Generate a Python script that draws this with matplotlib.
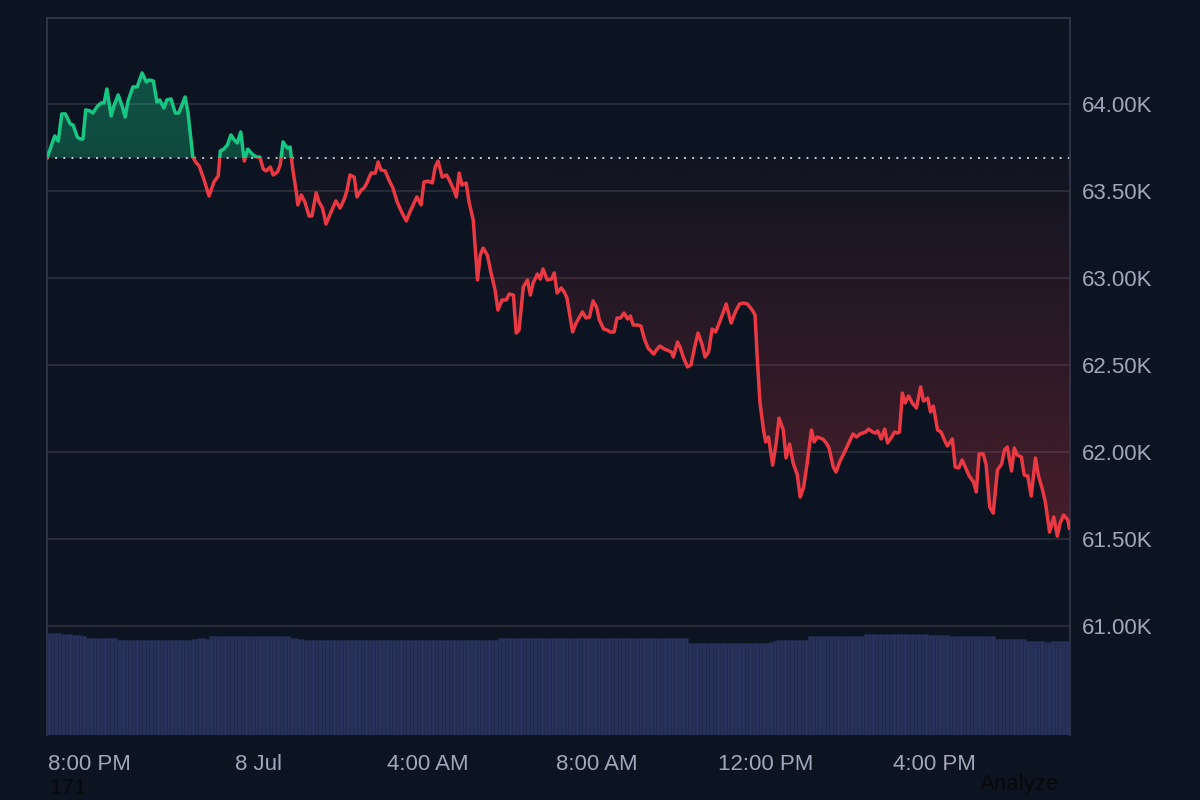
import numpy as np
import matplotlib
matplotlib.use('Agg')
import matplotlib.pyplot as plt
from matplotlib.colors import to_rgb
from matplotlib.patches import Rectangle

plt.rcParams['font.family'] = ['Liberation Sans', 'DejaVu Sans']

# price, minutes since 7:00 PM (7 Jul)
minutes = [
    0, 11, 16, 21, 26, 33, 37, 43, 47, 51,
    55, 61, 65, 72, 77, 81, 85, 91, 95, 101,
    107, 111, 115, 122, 128, 135, 141, 145, 151, 156,
    160, 166, 170, 176, 182, 187, 196, 200, 207, 212,
    216, 223, 230, 237, 243, 246, 251, 256, 261, 266,
    270, 275, 280, 285, 291, 297, 302, 307, 311, 317,
    321, 327, 331, 335, 341, 345, 349, 354, 356, 361,
    366, 372, 376, 382, 386, 391, 396, 402, 410, 416,
    422, 426, 430, 436, 440, 446, 450, 454, 460, 466,
    470, 474, 480, 486, 491, 497, 504, 510, 515, 521,
    525, 531, 535, 541, 547, 551, 555, 561, 567, 571,
    577, 581, 585, 589, 595, 599, 605, 611, 615, 619,
    625, 630, 636, 640, 646, 652, 656, 662, 666, 670,
    676, 682, 686, 690, 696, 700, 704, 710, 716, 720,
    724, 730, 734, 738, 746, 751, 760, 765, 770, 775,
    780, 784, 790, 795, 799, 805, 809, 814, 819, 824,
    828, 832, 838, 843, 848, 853, 861, 866, 870, 876,
    880, 886, 889, 895, 899, 903, 909, 914, 919, 924,
    930, 934, 939, 944, 949, 953, 959, 964, 971, 977,
    983, 988, 994, 1001, 1005, 1008, 1012, 1017, 1020, 1024,
    1030, 1035, 1039, 1045, 1049, 1054, 1059, 1065, 1069, 1074,
    1079, 1085, 1089, 1093, 1101, 1106, 1110, 1116, 1120, 1125,
    1130, 1136, 1144, 1149, 1154, 1162, 1166, 1172, 1176, 1179,
    1184, 1189, 1193, 1198, 1203, 1207, 1210, 1214, 1218, 1223,
    1228, 1234, 1240, 1244, 1250, 1254, 1258, 1264, 1269, 1275,
    1278, 1285, 1289, 1294, 1299, 1304, 1309, 1315, 1319, 1323,
    1329, 1333, 1338, 1343, 1349, 1355, 1359, 1363, 1369, 1373,
    1377, 1383, 1387, 1392, 1397, 1403, 1407, 1413, 1417, 1423,
    1429, 1434, 1438, 1443, 1449, 1451,
]
prices = [
    63690, 63816, 63787, 63943, 63943, 63885, 63879, 63810, 63799, 63799,
    63966, 63960, 63948, 63989, 64006, 64006, 64086, 63931, 63989, 64052,
    63983, 63925, 64017, 64098, 64098, 64178, 64126, 64138, 64132, 64011,
    64023, 63977, 64023, 64029, 63948, 63948, 64040, 63954, 63695, 63661,
    63644, 63563, 63471, 63552, 63586, 63730, 63741, 63764, 63822, 63793,
    63776, 63839, 63672, 63741, 63713, 63695, 63695, 63626, 63615, 63638,
    63592, 63609, 63649, 63782, 63747, 63753, 63621, 63489, 63420, 63477,
    63437, 63356, 63356, 63489, 63437, 63402, 63310, 63368, 63443, 63402,
    63454, 63506, 63592, 63580, 63466, 63506, 63517, 63546, 63603, 63603,
    63667, 63621, 63615, 63557, 63517, 63437, 63374, 63328, 63379, 63431,
    63466, 63420, 63552, 63557, 63546, 63638, 63672, 63580, 63592, 63563,
    63511, 63466, 63603, 63534, 63546, 63437, 63333, 62989, 63132, 63172,
    63132, 63034, 62931, 62816, 62874, 62874, 62908, 62902, 62684, 62701,
    62948, 62989, 62902, 62971, 63023, 62994, 63052, 62989, 62994, 63029,
    62914, 62943, 62920, 62885, 62690, 62741, 62805, 62770, 62776, 62868,
    62833, 62759, 62707, 62701, 62690, 62690, 62770, 62770, 62799, 62764,
    62782, 62730, 62730, 62724, 62649, 62598, 62563, 62592, 62609, 62592,
    62586, 62575, 62546, 62632, 62598, 62546, 62489, 62500, 62598, 62684,
    62615, 62546, 62575, 62707, 62690, 62730, 62793, 62851, 62741, 62805,
    62851, 62856, 62851, 62816, 62787, 62546, 62282, 62127, 62058, 62086,
    61925, 62052, 62195, 62127, 61966, 62046, 61937, 61868, 61741, 61799,
    61937, 62127, 62058, 62086, 62075, 62052, 62023, 61914, 61885, 61943,
    61983, 62035, 62104, 62086, 62104, 62115, 62132, 62115, 62109, 62121,
    62075, 62132, 62052, 62081, 62115, 62109, 62115, 62339, 62282, 62322,
    62282, 62253, 62374, 62293, 62310, 62230, 62264, 62127, 62115, 62058,
    62035, 62075, 61914, 61908, 61954, 61908, 61862, 61828, 61770, 61989,
    61989, 61925, 61684, 61649, 61897, 61931, 62012, 62029, 61891, 62023,
    61983, 61971, 61868, 61862, 61747, 61966, 61868, 61782, 61713, 61540,
    61627, 61517, 61592, 61638, 61609, 61563,
]
open_price = 63690

# 5 minute volume bars (relative units)
volume = [
    14.2, 14.2, 14.2, 14.2, 14.1, 14.1, 14.1,
    13.9, 13.9, 13.9, 13.8,
    13.5, 13.5, 13.5, 13.5, 13.5, 13.5, 13.5, 13.5, 13.5,
    13.2, 13.2, 13.2, 13.2, 13.2, 13.2, 13.2, 13.2, 13.2, 13.2, 13.2,
    13.2, 13.2, 13.2, 13.2, 13.2, 13.2, 13.2, 13.2, 13.2, 13.2,
    13.4, 13.4, 13.5, 13.5, 13.4,
    13.8, 13.8, 13.8, 13.8, 13.8, 13.8, 13.8, 13.8, 13.8, 13.8, 13.8, 13.8,
    13.8, 13.8, 13.8, 13.8, 13.8, 13.8, 13.8, 13.8, 13.8, 13.8, 13.8,
    13.5, 13.5, 13.4, 13.4,
    13.2, 13.2, 13.2, 13.2, 13.2, 13.2, 13.2, 13.2, 13.2, 13.2, 13.2,
    13.2, 13.2, 13.2, 13.2, 13.2, 13.2, 13.2, 13.2, 13.2, 13.2, 13.2,
    13.2, 13.2, 13.2, 13.2, 13.2, 13.2, 13.2, 13.2, 13.2, 13.2, 13.2,
    13.2, 13.2, 13.2, 13.2, 13.2, 13.2, 13.2, 13.2, 13.2, 13.2, 13.2,
    13.2, 13.2, 13.2, 13.2, 13.2, 13.2, 13.2, 13.2, 13.2, 13.2, 13.2,
    13.5, 13.5, 13.5, 13.5, 13.5, 13.5, 13.5, 13.5, 13.5, 13.5, 13.5,
    13.5, 13.5, 13.5, 13.5, 13.5, 13.5, 13.5, 13.5, 13.5, 13.5, 13.5,
    13.5, 13.5, 13.5, 13.5, 13.5, 13.5, 13.5, 13.5, 13.5, 13.5, 13.5,
    13.5, 13.5, 13.5, 13.5, 13.5, 13.5, 13.5, 13.5, 13.5, 13.5, 13.5,
    13.5, 13.5, 13.5, 13.5, 13.5, 13.5, 13.5, 13.5, 13.5, 13.5,
    12.8, 12.8, 12.8, 12.8, 12.8, 12.8, 12.8, 12.8, 12.8, 12.8, 12.8, 12.8,
    12.8, 12.8, 12.8, 12.8, 12.8, 12.8, 12.8, 12.8, 12.8, 12.8, 12.8,
    13.0, 13.1, 13.2, 13.2, 13.2, 13.2, 13.2, 13.2, 13.2, 13.2, 13.2,
    13.8, 13.8, 13.8, 13.8, 13.8, 13.8, 13.8, 13.8,
    13.8, 13.8, 13.8, 13.8, 13.8, 13.8, 13.8, 13.8,
    14.1, 14.1, 14.1, 14.1, 14.1, 14.1, 14.1, 14.1, 14.1,
    14.1, 14.1, 14.1, 14.1, 14.1, 14.1, 14.1, 14.1, 14.1,
    13.9, 13.9, 13.9, 14.0, 13.9, 13.9,
    13.8, 13.8, 13.8, 13.8, 13.8, 13.8, 13.8, 13.8, 13.8, 13.8, 13.8, 13.8, 13.8,
    13.4, 13.4, 13.4, 13.4, 13.4, 13.4, 13.4, 13.4, 13.4,
    13.1, 13.1, 13.1, 13.1, 13.1, 13.0, 13.0, 13.1, 13.1, 13.1, 13.1, 13.1, 13.1,
]
vol_step = 5

price_ticks = [61000, 61500, 62000, 62500, 63000, 63500, 64000]
price_labels = ['61.00K', '61.50K', '62.00K', '62.50K', '63.00K', '63.50K', '64.00K']
time_ticks = [60, 300, 540, 780, 1020, 1260]
time_labels = ['8:00 PM', '8 Jul', '4:00 AM', '8:00 AM', '12:00 PM', '4:00 PM']

bg = '#0d1421'
green = '#16c784'
red = '#ea3943'
grid_c = '#2a2e3b'
text_c = '#a1a7bb'
t_end = 1452
y_lo, y_hi = 60374, 64494

fig = plt.figure(figsize=(12, 8), dpi=100, facecolor=bg)
ax = fig.add_axes([47 / 1200, 65 / 800, 1023 / 1200, 717 / 800])
ax.set_facecolor(bg)

# volume on its own scale
ax2 = ax.twinx()
ax2.bar(np.arange(len(volume)) * vol_step, volume, width=vol_step, align='edge',
        color='#27315a', edgecolor='#222a4d', linewidth=0.4)
ax2.set_ylim(0, 100)
ax2.axis('off')


def vgrad(color, a_bottom, a_top):
    g = np.zeros((256, 1, 4))
    g[..., :3] = to_rgb(color)
    g[:, 0, 3] = np.linspace(a_bottom, a_top, 256)
    return g


poly = ax.fill_between(minutes, prices, open_price, facecolor='none', edgecolor='none')
clip = poly.get_paths()[0]

im_r = ax.imshow(vgrad(red, 0.28, 0.02), extent=[0, t_end, 61400, open_price],
                 origin='lower', aspect='auto', zorder=1)
im_r.set_clip_path(clip, ax.transData)
im_g = ax.imshow(vgrad(green, 0.30, 0.36), extent=[0, t_end, open_price, 64300],
                 origin='lower', aspect='auto', zorder=1)
im_g.set_clip_path(clip, ax.transData)

ax.axhline(open_price, color='#c3c7d2', lw=1.4, ls=(0, (1, 3.2)), zorder=2)

lg, = ax.plot(minutes, prices, color=green, lw=2.5, zorder=3, solid_joinstyle='round')
lg.set_clip_path(Rectangle((0, open_price), t_end, 5000, transform=ax.transData))
lr, = ax.plot(minutes, prices, color=red, lw=2.5, zorder=3, solid_joinstyle='round')
lr.set_clip_path(Rectangle((0, open_price - 5000), t_end, 5000, transform=ax.transData))

ax.set_xlim(0, t_end)
ax.set_ylim(y_lo, y_hi)

ax.yaxis.tick_right()
ax.set_yticks(price_ticks)
ax.set_yticklabels(price_labels)
ax.set_xticks(time_ticks)
ax.set_xticklabels(time_labels)
ax.tick_params(axis='y', length=0, pad=8.5, labelsize=16, labelcolor=text_c)
ax.tick_params(axis='x', length=0, pad=13.5, labelsize=16, labelcolor=text_c)
ax.grid(axis='y', color=grid_c, lw=1.3)
ax.set_axisbelow(True)

for s in ['left', 'right', 'top']:
    ax.spines[s].set_color('#33374a')
    ax.spines[s].set_linewidth(1.3)
ax.spines['bottom'].set_visible(False)

fig.text(49 / 1200, 1 / 800, '171', fontsize=16, color='#07080b', va='bottom')
fig.text(980 / 1200, 1 - 774 / 800, 'Analyze', fontsize=16, color='#07080b', va='top')

fig.savefig('out.png', dpi=100, facecolor=bg)
